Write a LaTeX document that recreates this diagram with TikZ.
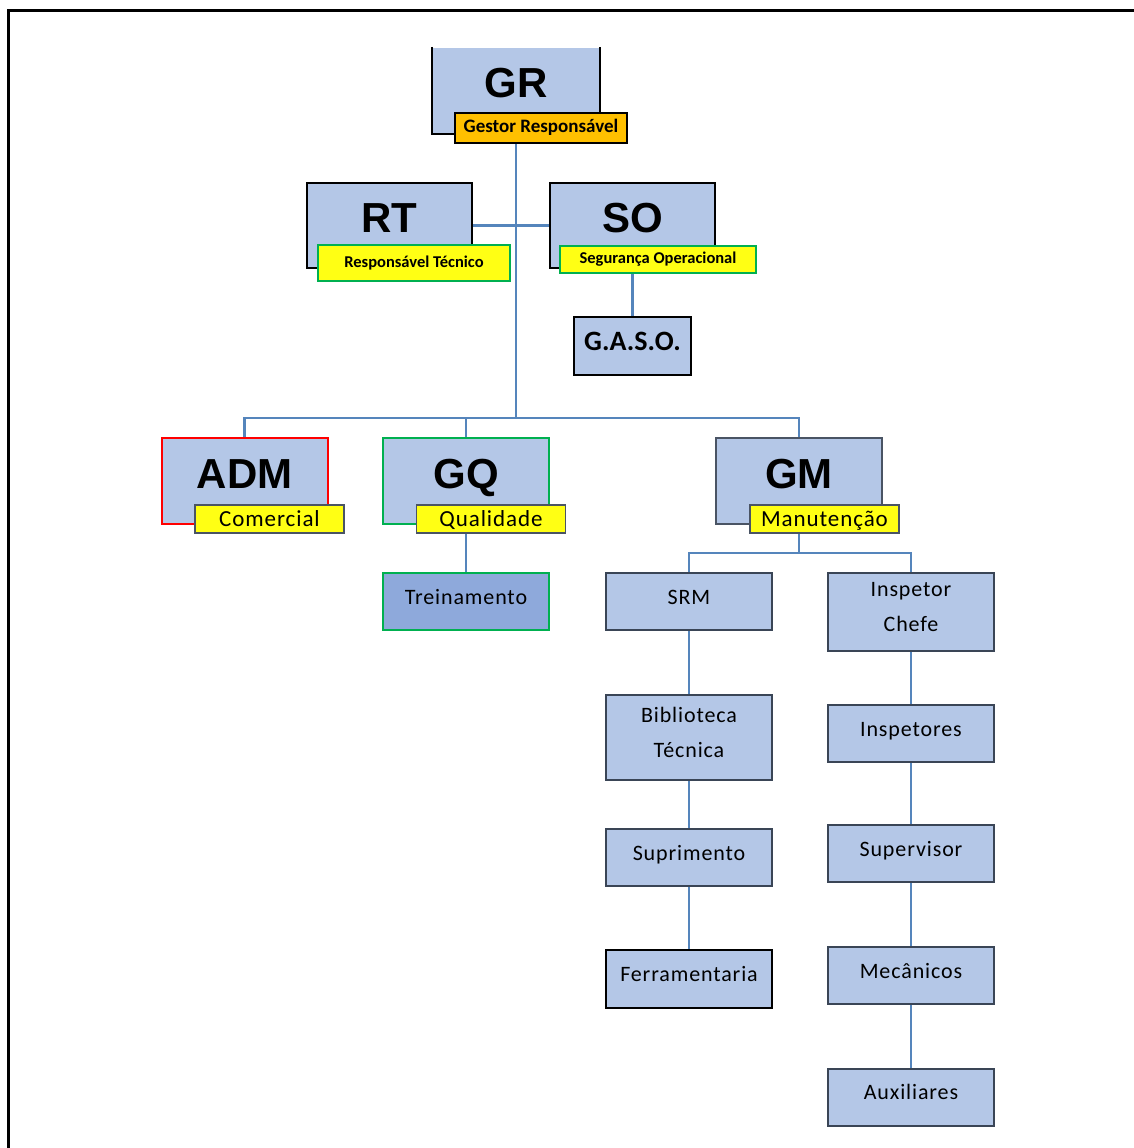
\documentclass[tikz,border=0pt]{standalone}
\usepackage{fontspec}
\setmainfont{Carlito}
\newfontfamily\arialfont{Liberation Sans}
\newfontfamily\boxfont{Carlito}[LetterSpace=4]
\usetikzlibrary{backgrounds}
\definecolor{boxblue}{HTML}{B4C7E7}
\definecolor{treinblue}{HTML}{8EA9DB}
\definecolor{tagyellow}{HTML}{FFFF14}
\definecolor{tagorange}{HTML}{FFC000}
\definecolor{tagedge}{HTML}{4A5464}
\definecolor{subedge}{HTML}{3A4556}
\definecolor{okgreen}{HTML}{00B050}
\definecolor{linkblue}{HTML}{5585BC}
\newcommand{\lowstrut}{\rule[-10pt]{0pt}{10pt}}
\tikzset{
  bigbox/.style={fill=boxblue, draw=black, line width=2pt, inner sep=0pt,
    minimum width=166pt, minimum height=86pt,
    font=\arialfont\bfseries\fontsize{42}{46}\selectfont, text height=30pt, text depth=16pt},
  tagbox/.style={fill=tagyellow, draw=tagedge, line width=1.8pt, inner sep=0pt,
    minimum height=28pt, minimum width=149pt,
    font=\boxfont\fontsize{23}{26}\selectfont, text height=16pt, text depth=1pt},
  smalltag/.style={tagbox, draw=okgreen, font=\bfseries\fontsize{16.5}{19}\selectfont, text height=12pt, text depth=4pt},
  subbox/.style={fill=boxblue, draw=subedge, line width=2pt, inner sep=0pt,
    minimum width=166pt, minimum height=57pt,
    font=\boxfont\fontsize{22}{35}\selectfont, text height=15pt, text depth=10pt, align=center},
  twoline/.style={subbox, text height=, text depth=},
  link/.style={draw=linkblue, line width=2.5pt},
  frameline/.style={draw=black, line width=3pt}
}
\begin{document}
\begin{tikzpicture}[x=1pt,y=-1pt]
\useasboundingbox (0,0) rectangle (1134,1148);
\draw[frameline] (8,1148) -- (8,11) -- (1134,11);

% top level
\node[bigbox, draw=none, minimum height=85pt] (gr) at (516,90.5) {GR};
\draw[line width=2pt] (gr.north west) -- (gr.south west) -- (gr.south east) -- (gr.north east);
\node[tagbox, fill=tagorange, draw=black, minimum width=172pt, minimum height=30pt,
      font=\bfseries\fontsize{19}{22}\selectfont, text height=13pt, text depth=4pt] (grl) at (541,128) {Gestor Responsável};

\node[bigbox, minimum width=165pt, minimum height=85pt] (rt) at (389.5,225.5) {RT};
\node[smalltag, minimum width=192pt, minimum height=36pt] (rtl) at (414,263) {Responsável Técnico};
\node[bigbox, minimum width=165pt, minimum height=85pt] (so) at (632.5,225.5) {SO};
\node[smalltag, minimum width=196pt, minimum height=27pt] (sol) at (658,259.5) {Segurança Operacional};

\node[subbox, draw=black, minimum width=117pt, minimum height=58pt,
      font=\bfseries\fontsize{28}{32}\selectfont, text height=19pt, text depth=10pt] (gaso) at (632.5,346) {G.A.S.O.};

% second level
\node[bigbox, draw=red] (adm) at (244.5,481) {ADM};
\node[tagbox] (adml) at (269.5,519) {Comercial};
\node[bigbox, draw=okgreen] (gq) at (466,481) {GQ};
\node[tagbox] (gql) at (491,519) {Qualidade};
\node[bigbox, draw=tagedge] (gm) at (799,481) {GM};
\node[tagbox] (gml) at (824.5,519) {Manutenção};

\node[subbox, fill=treinblue, draw=okgreen] (trein) at (466,601.5) {Treinamento};

% maintenance columns
\node[subbox] (srm) at (689,601.5) {SRM};
\node[twoline, minimum height=85pt] (bib) at (689,737.5) {Biblioteca\\Técnica\lowstrut};
\node[subbox] (sup) at (689,857.5) {Suprimento};
\node[subbox, draw=black, minimum height=58pt] (ferr) at (689,979) {Ferramentaria};

\node[twoline, minimum height=78pt] (ich) at (911,612) {Inspetor\\Chefe\lowstrut};
\node[subbox] (insp) at (911,733.5) {Inspetores};
\node[subbox] (superv) at (911,853.5) {Supervisor};
\node[subbox] (mec) at (911,975.5) {Mecânicos};
\node[subbox] (aux) at (911,1097) {Auxiliares};

\coordinate (bus) at (516,418);
\coordinate (bus2) at (799,553);

\begin{pgfonlayer}{background}
  \draw[link] (gr.south) -- (gr.south |- bus);
  \draw[link] (rt.east) -- (so.west);
  \draw[link] (gaso.north) -- (gaso.north |- sol.south);
  \draw[link] (adm.north) -- (adm.north |- bus) -- (gm.north |- bus) -- (gm.north);
  \draw[link] (gq.north) -- (gq.north |- bus);
  \draw[link] (trein.north) -- (trein.north |- gql.south);
  \draw[link] (gm.south) -- (bus2);
  \draw[link] (srm.north) -- (srm.north |- bus2) -- (ich.north |- bus2) -- (ich.north);
  \draw[link] (srm.south) -- (bib.north);
  \draw[link] (bib.south) -- (sup.north);
  \draw[link] (sup.south) -- (ferr.north);
  \draw[link] (ich.south) -- (insp.north);
  \draw[link] (insp.south) -- (superv.north);
  \draw[link] (superv.south) -- (mec.north);
  \draw[link] (mec.south) -- (aux.north);
\end{pgfonlayer}
\end{tikzpicture}
\end{document}
